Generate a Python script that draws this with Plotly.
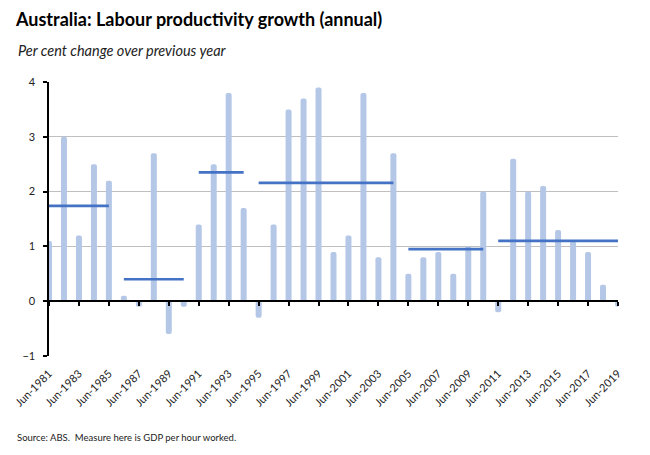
import plotly.graph_objects as go

# Annual labour productivity growth (GDP per hour worked), per cent
years = ["Jun-1981", "Jun-1982", "Jun-1983", "Jun-1984", "Jun-1985", "Jun-1986", "Jun-1987",
         "Jun-1988", "Jun-1989", "Jun-1990", "Jun-1991", "Jun-1992", "Jun-1993", "Jun-1994",
         "Jun-1995", "Jun-1996", "Jun-1997", "Jun-1998", "Jun-1999", "Jun-2000", "Jun-2001",
         "Jun-2002", "Jun-2003", "Jun-2004", "Jun-2005", "Jun-2006", "Jun-2007", "Jun-2008",
         "Jun-2009", "Jun-2010", "Jun-2011", "Jun-2012", "Jun-2013", "Jun-2014", "Jun-2015",
         "Jun-2016", "Jun-2017", "Jun-2018", "Jun-2019"]
growth = [1.1, 3.0, 1.2, 2.5, 2.2, 0.1, -0.1, 2.7, -0.6, -0.1,
          1.4, 2.5, 3.8, 1.7, -0.3, 1.4, 3.5, 3.7, 3.9, 0.9,
          1.2, 3.8, 0.8, 2.7, 0.5, 0.8, 0.9, 0.5, 1.0, 2.0,
          -0.2, 2.6, 2.0, 2.1, 1.3, 1.1, 0.9, 0.3, -0.1]

# Productivity cycle averages
cycle_start = ["Jun-1981", "Jun-1986", "Jun-1991", "Jun-1995", "Jun-2005", "Jun-2011"]
cycle_end = ["Jun-1985", "Jun-1990", "Jun-1994", "Jun-2004", "Jun-2010", "Jun-2019"]
cycle_avg = [1.74, 0.40, 2.35, 2.16, 0.95, 1.10]

tick_labels = ["Jun-1981", "Jun-1983", "Jun-1985", "Jun-1987", "Jun-1989", "Jun-1991",
               "Jun-1993", "Jun-1995", "Jun-1997", "Jun-1999", "Jun-2001", "Jun-2003",
               "Jun-2005", "Jun-2007", "Jun-2009", "Jun-2011", "Jun-2013", "Jun-2015",
               "Jun-2017", "Jun-2019"]

FONT = "Lato"
# page body adds an 8px offset, so margins are shifted to compensate
OFF = 8

fig = go.Figure()

fig.add_trace(go.Bar(
    x=years, y=growth, width=0.4,
    marker=dict(color="#B4C7E7", line=dict(width=0), cornerradius=3),
    showlegend=False,
))

for s, e, a in zip(cycle_start, cycle_end, cycle_avg):
    fig.add_trace(go.Scatter(
        x=[s, e], y=[a, a], mode="lines",
        line=dict(color="#4472C4", width=2.6),
        showlegend=False,
    ))

# invisible trace so the zero-line axis gets drawn
fig.add_trace(go.Scatter(
    x=years, y=growth, xaxis="x2", mode="markers",
    marker=dict(opacity=0), hoverinfo="skip", showlegend=False,
))

fig.update_layout(
    width=650, height=455,
    margin=dict(l=49 - OFF, r=32 + OFF, t=82 - OFF, b=99 + OFF),
    paper_bgcolor="white", plot_bgcolor="white",
    font=dict(family=FONT, size=11, color="#222222"),
    title=dict(
        text="<b>Australia: Labour productivity growth (annual)</b>",
        x=(16 - OFF) / 650, xref="container", xanchor="left",
        y=1 - (19.5 - OFF) / 455, yref="container", yanchor="middle",
        font=dict(family=FONT, size=18, color="black"),
    ),
    xaxis=dict(
        type="category", range=[0, 38], automargin=False,
        tickmode="array", tickvals=tick_labels, ticktext=tick_labels,
        tickangle=-45, showgrid=False, showline=False,
        ticks="outside", ticklen=6, tickcolor="rgba(0,0,0,0)",
        tickfont=dict(size=11, color="#222222"),
    ),
    xaxis2=dict(
        type="category", overlaying="x", matches="x",
        anchor="free", position=0.2,
        tickmode="array", tickvals=tick_labels,
        showticklabels=False, showgrid=False,
        showline=True, linecolor="black", linewidth=2,
        ticks="outside", ticklen=4, tickcolor="black", tickwidth=1.5,
    ),
    yaxis=dict(
        range=[-1, 4], dtick=1, tick0=0,
        showgrid=True, gridcolor="#BFBFBF", gridwidth=1.2,
        zeroline=False,
        showline=True, linecolor="black", linewidth=2,
        ticks="outside", ticklen=4, tickcolor="black", tickwidth=1.5,
        ticksuffix="  ",
        tickfont=dict(size=11, color="#222222"),
    ),
    annotations=[
        dict(text="<i>Per cent change over previous year</i>",
             xref="paper", yref="paper", x=-33 / 569, y=(356 - 50.5) / 274,
             xanchor="left", yanchor="middle", showarrow=False,
             font=dict(family=FONT, size=14.5, color="#222222")),
        dict(text="Source: ABS.  Measure here is GDP per hour worked.",
             xref="paper", yref="paper", x=-34 / 569, y=(356 - 437) / 274,
             xanchor="left", yanchor="middle", showarrow=False,
             font=dict(family=FONT, size=9.5, color="#222222")),
    ],
)

fig.write_html("out.html")
